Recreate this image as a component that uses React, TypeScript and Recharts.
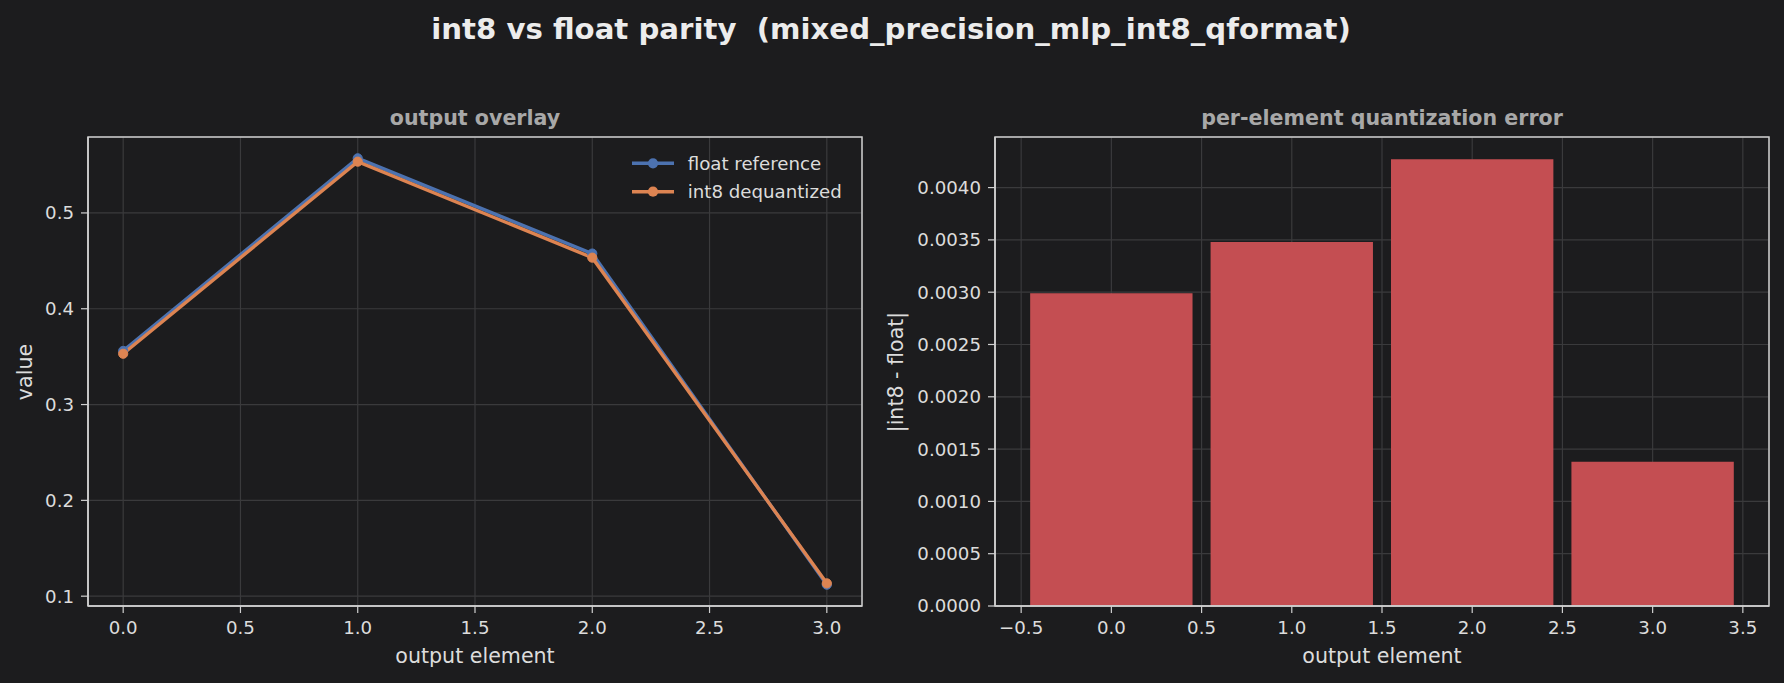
import React from 'react';
import { LineChart, Line, BarChart, Bar, XAxis, YAxis, CartesianGrid, Legend } from 'recharts';

// ---- data ----
const elements = [0, 1, 2, 3];
const floatReference = [0.356, 0.557, 0.4576, 0.112];
const int8Dequantized = [0.35301, 0.55352, 0.45333, 0.11338];
const absError = [0.00299, 0.00348, 0.00427, 0.00138];

const overlayXTicks = [0, 0.5, 1, 1.5, 2, 2.5, 3];
const overlayYTicks = [0.1, 0.2, 0.3, 0.4, 0.5];
const errorXTicks = [-0.5, 0, 0.5, 1, 1.5, 2, 2.5, 3, 3.5];
const errorYTicks = [0, 0.0005, 0.001, 0.0015, 0.002, 0.0025, 0.003, 0.0035, 0.004];

const seriesNames = ['float reference', 'int8 dequantized'];
const barWidthUnits = 0.9;

// ---- style ----
const BG = '#1c1c1e';
const GRID = '#3a3a3c';
const SPINE = '#cfcfcf';
const TICK_TEXT = '#dcdcdc';
const TITLE_GRAY = '#a8a8a8';
const BLUE = '#4c72b0';
const ORANGE = '#dd8452';
const RED = '#c44e52';
const FONT = '"DejaVu Sans", sans-serif';
const TICK_SIZE = 18.2;
const LABEL_SIZE = 20.6;
const LINE_W = 3.4;
const DOT_R = 4.6;

// plot-area boxes (page pixels) for the two panels
const leftBox = { x: 88, y: 137, w: 774, h: 469 };
const rightBox = { x: 995, y: 137, w: 774, h: 469 };

const overlayData = elements.map((e, i) => ({
  x: e,
  floatRef: floatReference[i],
  int8: int8Dequantized[i],
}));
const errorData = elements.map((e, i) => ({ x: e, err: absError[i] }));

// matplotlib-style 5% autoscale margins
const withMargin = (lo: number, hi: number): [number, number] => {
  const pad = (hi - lo) * 0.05;
  return [lo - pad, hi + pad];
};
const allValues = [...floatReference, ...int8Dequantized];
const overlayYDomain = withMargin(Math.min(...allValues), Math.max(...allValues));
const overlayXDomain = withMargin(Math.min(...elements), Math.max(...elements));
const errorXDomain = withMargin(
  Math.min(...elements) - barWidthUnits / 2,
  Math.max(...elements) + barWidthUnits / 2
);
const errorYDomain: [number, number] = [0, Math.max(...absError) * 1.05];

const fmt1 = (v: number) => (v < 0 ? '\u2212' : '') + Math.abs(v).toFixed(1);
const fmt4 = (v: number) => v.toFixed(4);

const tickStyle = { fill: TICK_TEXT, fontSize: TICK_SIZE, fontFamily: FONT };
const tickLine = { stroke: SPINE, strokeWidth: 1.2 };
const axisLine = { stroke: SPINE, strokeWidth: 1.5 };

const OverlayLegend = (props: any) => {
  const payload = props.payload || [];
  return (
    <svg width={240} height={60} style={{ overflow: 'visible' }}>
      {payload.map((p: any, i: number) => {
        const cy = 14.3 + i * 28.4;
        return (
          <g key={p.value}>
            <line x1={12} x2={54} y1={cy} y2={cy} stroke={p.color} strokeWidth={LINE_W} />
            <circle cx={33} cy={cy} r={DOT_R + 0.5} fill={p.color} />
            <text
              x={67.7}
              y={cy}
              dominantBaseline="central"
              fill={TICK_TEXT}
              fontSize={TICK_SIZE}
              fontFamily={FONT}
            >
              {p.value}
            </text>
          </g>
        );
      })}
    </svg>
  );
};

export default function App() {
  const barSize = (barWidthUnits * rightBox.w) / (errorXDomain[1] - errorXDomain[0]);

  return (
    <div
      style={{
        position: 'absolute',
        left: 0,
        top: 0,
        width: 1784,
        height: 683,
        background: BG,
        overflow: 'hidden',
      }}
    >
      <div style={{ position: 'absolute', left: 0, top: 0 }}>
        <LineChart
          width={880}
          height={683}
          data={overlayData}
          margin={{ top: 137, right: 18, bottom: 47, left: 28 }}
        >
          <CartesianGrid stroke={GRID} strokeWidth={1.2} />
          <XAxis
            dataKey="x"
            type="number"
            domain={overlayXDomain}
            ticks={overlayXTicks}
            tickFormatter={fmt1}
            allowDataOverflow
            height={30}
            tick={tickStyle}
            tickLine={tickLine}
            tickSize={7}
            tickMargin={8}
            axisLine={axisLine}
          />
          <YAxis
            type="number"
            domain={overlayYDomain}
            ticks={overlayYTicks}
            tickFormatter={fmt1}
            allowDataOverflow
            width={60}
            tick={tickStyle}
            tickLine={tickLine}
            tickSize={7}
            tickMargin={7}
            axisLine={axisLine}
          />
          <Line
            dataKey="floatRef"
            name={seriesNames[0]}
            stroke={BLUE}
            strokeWidth={LINE_W}
            dot={{ r: DOT_R, fill: BLUE, stroke: BLUE, strokeWidth: 1 }}
            activeDot={false}
            isAnimationActive={false}
          />
          <Line
            dataKey="int8"
            name={seriesNames[1]}
            stroke={ORANGE}
            strokeWidth={LINE_W}
            dot={{ r: DOT_R, fill: ORANGE, stroke: ORANGE, strokeWidth: 1 }}
            activeDot={false}
            isAnimationActive={false}
          />
          <Legend
            layout="vertical"
            align="center"
            verticalAlign="middle"
            content={OverlayLegend}
            wrapperStyle={{ left: 620, top: 149, width: 240, height: 60 }}
          />
        </LineChart>
      </div>

      <div style={{ position: 'absolute', left: 880, top: 0 }}>
        <BarChart
          width={904}
          height={683}
          data={errorData}
          margin={{ top: 137, right: 15, bottom: 47, left: 35 }}
        >
          <CartesianGrid stroke={GRID} strokeWidth={1.2} />
          <XAxis
            dataKey="x"
            type="number"
            domain={errorXDomain}
            ticks={errorXTicks}
            tickFormatter={fmt1}
            allowDataOverflow
            height={30}
            tick={tickStyle}
            tickLine={tickLine}
            tickSize={7}
            tickMargin={8}
            axisLine={axisLine}
          />
          <YAxis
            type="number"
            domain={errorYDomain}
            ticks={errorYTicks}
            tickFormatter={fmt4}
            allowDataOverflow
            width={80}
            tick={tickStyle}
            tickLine={tickLine}
            tickSize={7}
            tickMargin={7}
            axisLine={axisLine}
          />
          <Bar dataKey="err" fill={RED} barSize={barSize} isAnimationActive={false} />
        </BarChart>
      </div>

      <svg
        width={1784}
        height={683}
        style={{ position: 'absolute', left: 0, top: 0, pointerEvents: 'none' }}
        fontFamily={FONT}
      >
        {/* axes frames (top and right spines complete the box) */}
        {[leftBox, rightBox].map((b, i) => (
          <rect key={i} x={b.x} y={b.y} width={b.w} height={b.h} fill="none" stroke={SPINE} strokeWidth={1.5} />
        ))}
        <text
          x={891}
          y={28.5}
          textAnchor="middle"
          dominantBaseline="central"
          fontSize={29.2}
          fontWeight="bold"
          fill="#ececec"
          style={{ whiteSpace: 'pre' }}
        >
          {'int8 vs float parity  (mixed_precision_mlp_int8_qformat)'}
        </text>
        <text x={475} y={118} textAnchor="middle" dominantBaseline="central" fontSize={LABEL_SIZE} fontWeight="bold" fill={TITLE_GRAY}>
          output overlay
        </text>
        <text x={1382} y={118} textAnchor="middle" dominantBaseline="central" fontSize={LABEL_SIZE} fontWeight="bold" fill={TITLE_GRAY}>
          per-element quantization error
        </text>
        <text x={475} y={656} textAnchor="middle" dominantBaseline="central" fontSize={LABEL_SIZE} fill={TICK_TEXT}>
          output element
        </text>
        <text x={1382} y={656} textAnchor="middle" dominantBaseline="central" fontSize={LABEL_SIZE} fill={TICK_TEXT}>
          output element
        </text>
        <text
          x={25}
          y={372}
          textAnchor="middle"
          dominantBaseline="central"
          fontSize={LABEL_SIZE}
          fill={TICK_TEXT}
          transform="rotate(-90 25 372)"
        >
          value
        </text>
        <text
          x={896}
          y={372}
          textAnchor="middle"
          dominantBaseline="central"
          fontSize={LABEL_SIZE}
          fill={TICK_TEXT}
          transform="rotate(-90 896 372)"
        >
          |int8 - float|
        </text>
      </svg>
    </div>
  );
}
